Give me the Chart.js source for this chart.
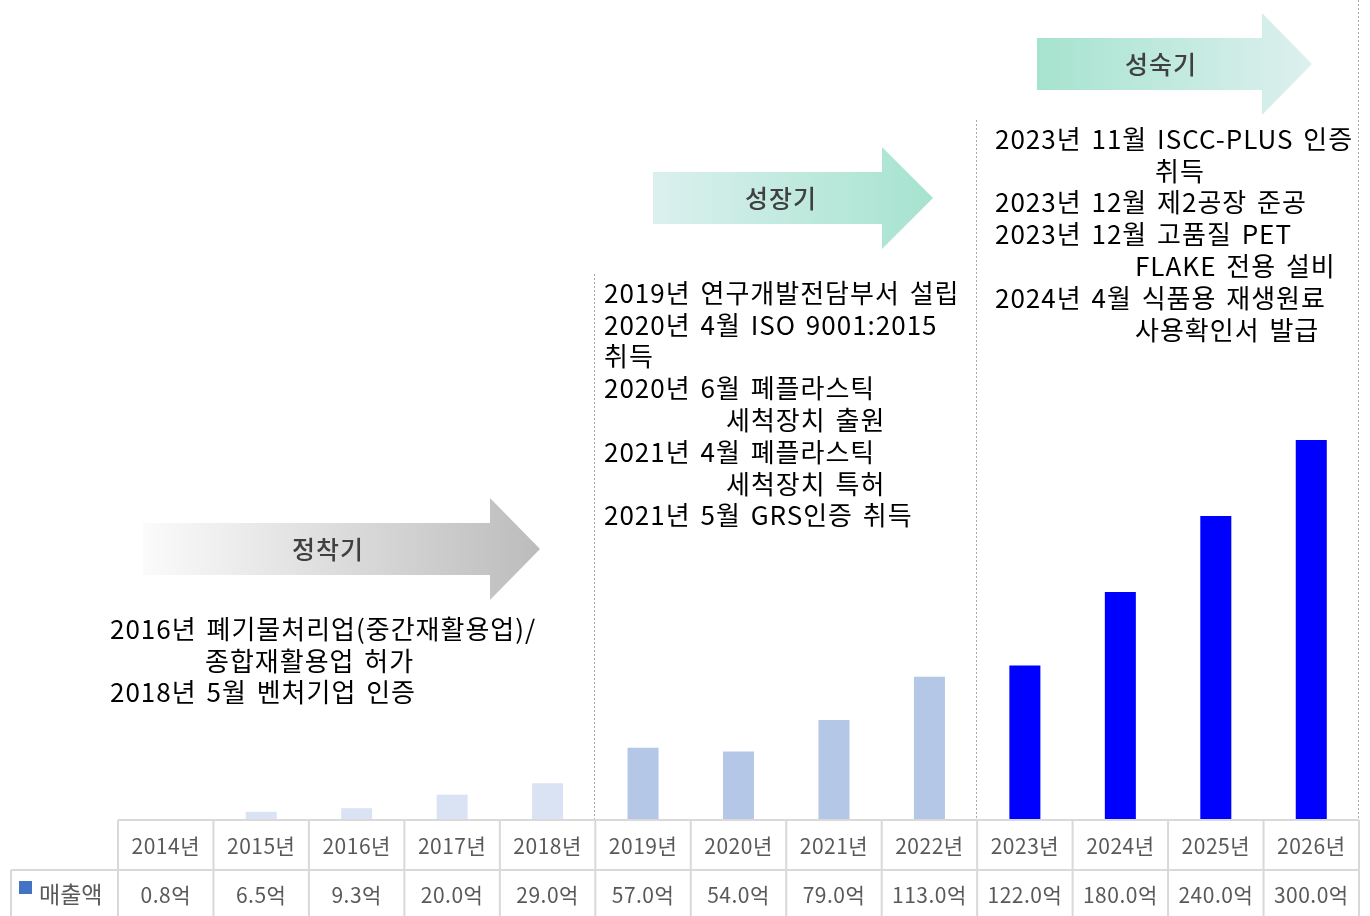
<!DOCTYPE html>
<html><head><meta charset="utf-8">
<script src="https://cdn.jsdelivr.net/npm/chart.js@4/dist/chart.umd.min.js"></script>
<style>html,body{margin:0;padding:0;background:#fff;overflow:hidden}#wrap{width:1370px;height:916px;position:relative}</style>
</head><body><div id="wrap"><canvas id="c"></canvas></div>
<script>
const categories = ['2014년','2015년','2016년','2017년','2018년','2019년','2020년','2021년','2022년','2023년','2024년','2025년','2026년'];
const sales = [0.8, 6.5, 9.3, 20.0, 29.0, 57.0, 54.0, 79.0, 113.0, 122.0, 180.0, 240.0, 300.0];
const seriesName = '매출액';
const unit = '억';
const phaseNames = ['정착기', '성장기', '성숙기'];
const phaseStartIndex = [0, 5, 9];
const milestones1 = ['2016년 폐기물처리업(중간재활용업)/', '종합재활용업 허가', '2018년 5월 벤처기업 인증'];
const milestones2 = ['2019년 연구개발전담부서 설립', '2020년 4월 ISO 9001:2015', '취득', '2020년 6월 폐플라스틱', '세척장치 출원', '2021년 4월 폐플라스틱', '세척장치 특허', '2021년 5월 GRS인증 취득'];
const milestones3 = ['2023년 11월 ISCC-PLUS 인증', '취득', '2023년 12월 제2공장 준공', '2023년 12월 고품질 PET', 'FLAKE 전용 설비', '2024년 4월 식품용 재생원료', '사용확인서 발급'];

const FONT = '"Noto Sans CJK KR", "Noto Sans", sans-serif';
const phaseColors = ['#dae3f3', '#b4c7e7', '#0000ff'];
function phaseOf(i){ let p=0; phaseStartIndex.forEach((s,k)=>{ if(i>=s) p=k; }); return p; }

const style = {
  arrows: [
    {x0:143, head:490, x1:540, yc:549, c0:'#fbfbfb', c1:'#bcbcbc', tx:328},
    {x0:653, head:882, x1:933, yc:198, c0:'#dbf0ee', c1:'#a6e3cf', tx:781},
    {x0:1037, head:1262, x1:1312, yc:64, c0:'#a6e3cf', c1:'#ddf0ee', tx:1161}
  ],
  blocks: [
    {lines: milestones1, x:[110,205,110], y0:629},
    {lines: milestones2, x:[604,604,604,604,726,604,726,604], y0:293},
    {lines: milestones3, x:[995,1155,995,995,1135,995,1135], y0:139}
  ],
  lineStep: 31.8,
  sepTops: [274, 120, 0]
};

const overlay = {
  id: 'overlay',
  beforeDatasetsDraw(chart){
    const ctx = chart.ctx, a = chart.chartArea;
    const cw = (a.right - a.left) / categories.length;
    ctx.save();
    ctx.strokeStyle = '#a9a9a9'; ctx.lineWidth = 1; ctx.setLineDash([2,2]);
    const seps = [phaseStartIndex[1], phaseStartIndex[2], categories.length];
    seps.forEach((idx, k) => {
      const x = Math.round(a.left + idx*cw) - 0.5;
      ctx.beginPath(); ctx.moveTo(x, style.sepTops[k]); ctx.lineTo(x, a.bottom); ctx.stroke();
    });
    ctx.restore();
  },
  afterDraw(chart){
    const ctx = chart.ctx, a = chart.chartArea, xs = chart.scales.x;
    const cw = (a.right - a.left) / categories.length;
    ctx.save();
    // arrows
    style.arrows.forEach((ar, k) => {
      const g = ctx.createLinearGradient(ar.x0, 0, ar.x1, 0);
      g.addColorStop(0, ar.c0); g.addColorStop(1, ar.c1);
      ctx.fillStyle = g;
      ctx.beginPath();
      ctx.moveTo(ar.x0, ar.yc-26); ctx.lineTo(ar.head, ar.yc-26); ctx.lineTo(ar.head, ar.yc-51);
      ctx.lineTo(ar.x1, ar.yc); ctx.lineTo(ar.head, ar.yc+51); ctx.lineTo(ar.head, ar.yc+26);
      ctx.lineTo(ar.x0, ar.yc+26); ctx.closePath(); ctx.fill();
      ctx.fillStyle = '#404040'; ctx.font = '500 25px ' + FONT;
      ctx.letterSpacing = '1px';
      ctx.textAlign = 'center'; ctx.textBaseline = 'middle';
      ctx.fillText(phaseNames[k], ar.tx, ar.yc);
    });
    // milestones
    ctx.fillStyle = '#000'; ctx.font = '26px ' + FONT; ctx.textAlign = 'left'; ctx.textBaseline = 'middle';
    ctx.letterSpacing = '1px'; ctx.wordSpacing = '3px';
    style.blocks.forEach(b => {
      b.lines.forEach((t, i) => ctx.fillText(t, b.x[i], b.y0 + i*style.lineStep));
    });
    ctx.wordSpacing = '0px';
    // table grid
    const top = a.bottom, mid = a.bottom + 50, bot = chart.height + 5;
    ctx.strokeStyle = '#d9d9d9'; ctx.lineWidth = 2;
    ctx.beginPath();
    ctx.moveTo(a.left, top); ctx.lineTo(a.right, top);
    ctx.moveTo(11, mid); ctx.lineTo(a.right, mid);
    ctx.moveTo(11, mid); ctx.lineTo(11, bot);
    for (let i = 0; i <= categories.length; i++) {
      const x = a.left + i*cw;
      ctx.moveTo(x, top); ctx.lineTo(x, bot);
    }
    ctx.stroke();
    // table text
    ctx.fillStyle = '#595959'; ctx.font = '21px ' + FONT; ctx.textAlign = 'center'; ctx.textBaseline = 'middle';
    ctx.letterSpacing = '0.5px';
    categories.forEach((c, i) => {
      const x = xs.getPixelForValue(i);
      ctx.fillText(c, x, top + 26);
      ctx.fillText(sales[i].toFixed(1) + unit, x, mid + 25);
    });
    // legend cell
    ctx.fillStyle = '#4472c4'; ctx.fillRect(19, mid + 11, 13, 13);
    ctx.fillStyle = '#595959'; ctx.textAlign = 'left';
    ctx.font = '23px ' + FONT; ctx.letterSpacing = '0px';
    ctx.fillText(seriesName, 39, mid + 24);
    ctx.restore();
  }
};

new Chart(document.getElementById('c'), {
  type: 'bar',
  data: {
    labels: categories,
    datasets: [{
      label: seriesName,
      data: sales,
      backgroundColor: sales.map((v, i) => phaseColors[phaseOf(i)]),
      categoryPercentage: 1,
      barPercentage: 0.325
    }]
  },
  options: {
    responsive: true, maintainAspectRatio: false, animation: false,
    layout: { padding: { left: 118, right: 11, top: 60, bottom: 96 } },
    plugins: { legend: { display: false }, tooltip: { enabled: false } },
    scales: {
      x: { display: false },
      y: { display: false, min: 0, max: 600 }
    }
  },
  plugins: [overlay]
});
</script></body></html>
